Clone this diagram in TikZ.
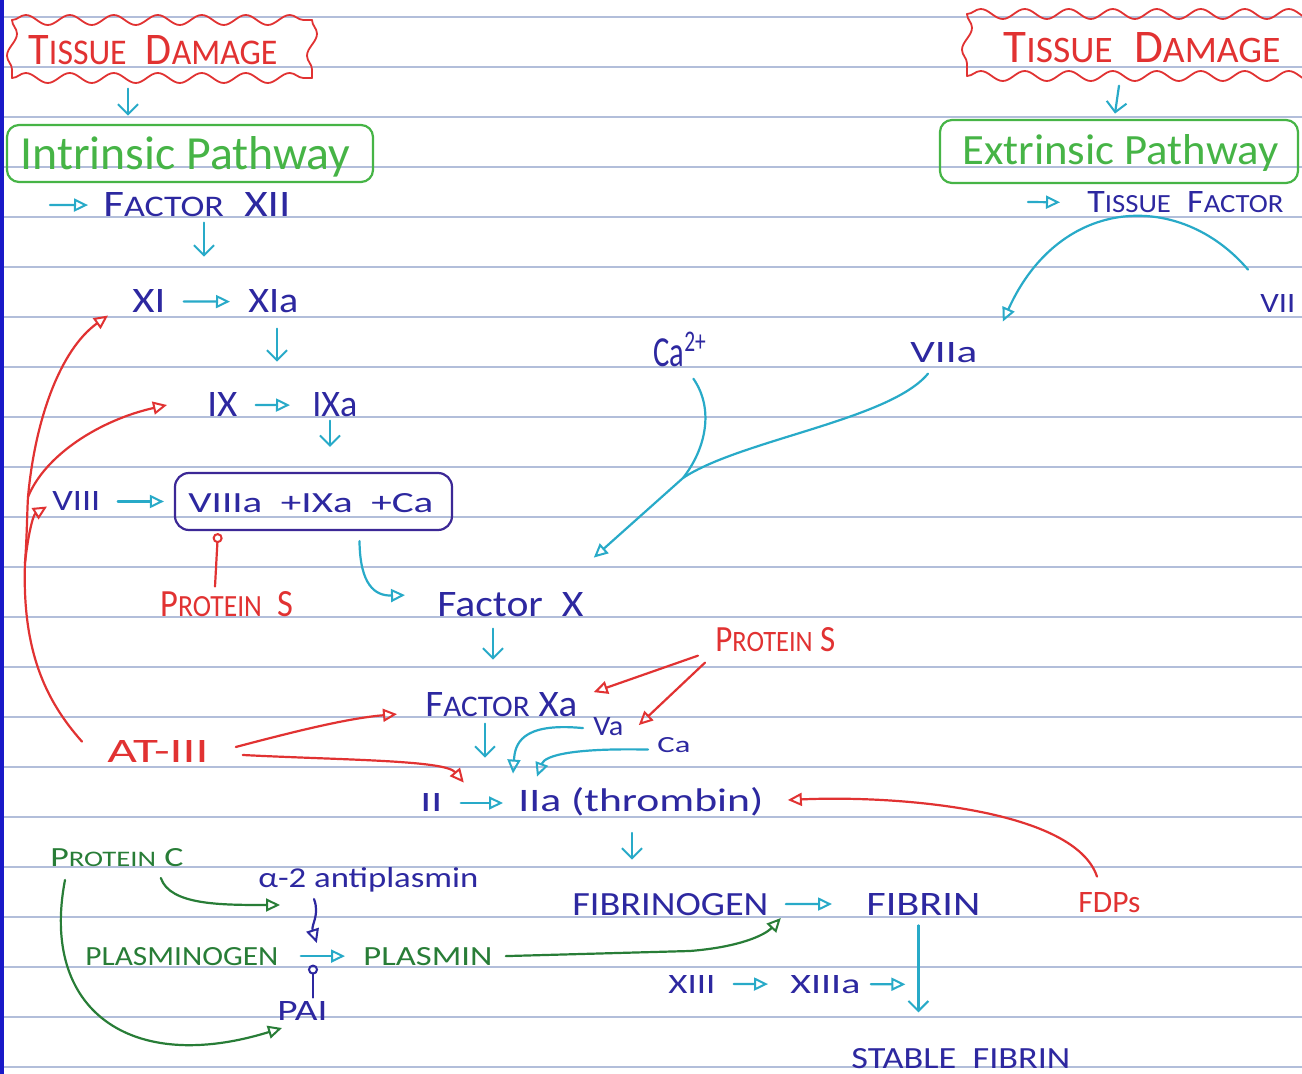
\documentclass[tikz,border=0pt]{standalone}
\usepackage{fontspec}
\setmainfont{Carlito}
\usepackage{graphicx}
\usetikzlibrary{arrows.meta,decorations.pathmorphing,calc}
\newdimen\pxd \pxd=0.5pt
\newcommand\hw[3]{\resizebox{#1\pxd}{#2\pxd}{#3}}
\newcommand\capsm[2]{#1\scalebox{0.8}{#2}}
\definecolor{ink}{RGB}{45,40,160}
\definecolor{cy}{RGB}{40,170,200}
\definecolor{rd}{RGB}{225,50,50}
\definecolor{gr}{RGB}{70,180,70}
\definecolor{dg}{RGB}{40,125,55}
\definecolor{boxc}{RGB}{60,40,150}
\definecolor{pl}{RGB}{178,190,218}
\definecolor{strip}{RGB}{25,25,200}
\begin{document}
\begin{tikzpicture}[x=0.5pt,y=-0.5pt,line cap=round,line join=round,
  txt/.style={inner sep=0pt,anchor=base west,text=#1},
  tri/.style={-{Triangle[open,length=7pt,width=6.5pt,line width=1pt]}},
  barb/.style={-{Straight Barb[length=5pt,width=10pt,line width=1pt]}},
  inhib/.style={-{Circle[open,length=5pt,width=5pt,line width=1pt]}},
  cyl/.style={cy,line width=1.1pt},
  rdl/.style={rd,line width=1.1pt},
  dgl/.style={dg,line width=1.1pt},
  wavy/.style={rd,line width=0.9pt,decorate,decoration={snake,segment length=22pt,amplitude=2.5pt}}]
\clip (0,0) rectangle (1302,1074);
\fill[white] (0,0) rectangle (1302,1074);
\foreach \yy in {17,67,...,1067} \draw[pl,line width=1pt] (0,\yy) -- (1302,\yy);
\fill[strip] (0,0) rectangle (4,1074);

% ---------- text nodes ----------
\node[txt=rd] (tdL) at (28,65) {\hw{249}{29}{\capsm{T}{ISSUE}\ \ \capsm{D}{AMAGE}}};
\node[txt=gr] (intr) at (20,170) {\hw{330}{33}{Intrinsic Pathway}};
\node[txt=ink] (fxii) at (103,217) {\hw{187}{24}{\capsm{F}{ACTOR}\ \ XII}};
\node[txt=ink] (xi) at (132,313) {\hw{33}{23}{XI}};
\node[txt=ink] (xia) at (248,313) {\hw{50}{23}{XIa}};
\node[txt=ink] (ix) at (207,417) {\hw{30}{24}{IX}};
\node[txt=ink] (ixa) at (312,417) {\hw{45}{24}{IXa}};
\node[txt=ink] (viii) at (52,511) {\hw{48}{19}{VIII}};
\node[draw=boxc,line width=1.1pt,rounded corners=7pt,minimum width=277\pxd,minimum height=57\pxd,inner sep=0pt] (box) at (313.5,501.5) {};
\node[txt=ink] (cplx) at (188,513) {\hw{245}{19}{VIIIa\ \ +IXa\ \ +Ca}};
\node[txt=rd] (ps1) at (160,617) {\hw{133}{25}{\capsm{P}{ROTEIN}\ \ S}};
\node[txt=ink] (fx) at (437,617) {\hw{146}{24}{Factor\ \ X}};
\node[txt=ink] (fxa) at (425,717) {\hw{152}{24}{\capsm{F}{ACTOR} Xa}};
\node[txt=rd] (ps2) at (715,652) {\hw{120}{24}{\capsm{P}{ROTEIN} S}};
\node[txt=ink] (va) at (593,735) {\hw{30}{18}{Va}};
\node[txt=ink] (ca) at (657,753) {\hw{33}{15}{Ca}};
\node[txt=rd] (at) at (107,763) {\hw{101}{22}{AT-III}};
\node[txt=ink] (ii) at (420,812) {\hw{22}{18}{II}};
\node[txt=ink] (iia) at (518,812) {\hw{245}{24}{IIa (thrombin)}};
\node[txt=dg] (pc) at (50,866) {\hw{133}{18}{\capsm{P}{ROTEIN} C}};
\node[txt=ink] (a2) at (258,887) {\hw{220}{20}{α-2 antiplasmin}};
\node[txt=dg] (plg) at (85,965) {\hw{193}{18}{PLASMINOGEN}};
\node[txt=dg] (pla) at (363,965) {\hw{129}{18}{PLASMIN}};
\node[txt=ink] (pai) at (277,1020) {\hw{50}{19}{PAI}};
\node[txt=ink] (fbg) at (572,915) {\hw{196}{22}{FIBRINOGEN}};
\node[txt=ink] (fbn) at (866,915) {\hw{114}{22}{FIBRIN}};
\node[txt=rd] (fdp) at (1078,913) {\hw{62}{20}{FDPs}};
\node[txt=ink] (xiii) at (668,993) {\hw{47}{18}{XIII}};
\node[txt=ink] (xiiia) at (790,993) {\hw{70}{18}{XIIIa}};
\node[txt=ink] (sf) at (851,1068) {\hw{219}{20}{STABLE\ \ FIBRIN}};
\node[txt=rd] (tdR) at (1003,63) {\hw{277}{30}{\capsm{T}{ISSUE}\ \ \capsm{D}{AMAGE}}};
\node[txt=gr] (extr) at (962,165) {\hw{316}{30}{Extrinsic Pathway}};
\node[txt=ink] (tf) at (1087,213) {\hw{196}{21}{\capsm{T}{ISSUE}\ \ \capsm{F}{ACTOR}}};
\node[txt=ink] (vii) at (1260,313) {\hw{35}{18}{VII}};
\node[txt=ink] (viia) at (910,363) {\hw{67}{20}{VIIa}};
\node[txt=ink] (ca2) at (653,367) {\hw{54}{35}{Ca\textsuperscript{2+}}};

% ---------- frames ----------
\draw[wavy] (12,20) -- (312,20);
\draw[wavy] (12,78) -- (312,78);
\draw[wavy] (12,20) -- (12,78);
\draw[wavy] (312,20) -- (312,78);
\draw[wavy] (967,14) -- (1330,14);
\draw[wavy] (967,76) -- (1330,76);
\draw[wavy] (967,14) -- (967,76);
\draw[gr,line width=1.1pt,rounded corners=6pt] (7,125) rectangle (373,182);
\draw[gr,line width=1.1pt,rounded corners=6pt] (940,120) rectangle (1298,183);

% ---------- free ends ----------
\coordinate (fxiiin) at (50,205);
\coordinate (tfin) at (1028,202);
\coordinate (mg) at (683,478);
\coordinate (br1) at (25,563);
\coordinate (br2) at (28,497);

% ---------- cyan connectors ----------
\draw[cyl,barb] ($(tdL.south west)+(100,23)$) -- ($(intr.north west)+(108,-21)$);
\draw[cyl,barb] ($(tdR.south west)+(116,22)$) -- ($(extr.north west)+(153,-21)$);
\draw[cyl,tri,shorten >=15\pxd] (fxiiin) -- (fxii.west);
\draw[cyl,tri,shorten >=27\pxd] (tfin) -- (tf.west);
\draw[cyl,barb] ($(fxii.south west)+(101,5)$) -- ($(xi.north west)+(72,-33)$);
\draw[cyl,tri,shorten <=18\pxd,shorten >=18\pxd] (xi.east) -- (xia.west);
\draw[cyl,barb] ($(xia.south west)+(29,15)$) -- ($(ix.north west)+(70,-31)$);
\draw[cyl,tri,shorten <=18\pxd,shorten >=22\pxd] (ix.east) -- (ixa.west);
\draw[cyl,barb] ($(ixa.south west)+(18,3)$) -- ($(box.north)+(16.5,-25)$);
\draw[cyl,tri,shorten <=17\pxd,shorten >=10\pxd] (viii.east) -- (box.west);
\draw[cyl,tri] ($(box.south)+(46,10)$) .. controls (360,585) and (375,596) .. ($(fx.west)+(-32,-10)$);
\draw[cyl,barb] ($(fx.south west)+(56,11)$) -- ($(fxa.north west)+(68,-33)$);
\draw[cyl,barb] ($(fxa.south west)+(60,6)$) -- ($(fxa.south west)+(60,40)$);
\draw[cyl,tri,shorten <=18\pxd,shorten >=15\pxd] (ii.east) -- (ii.east -| iia.west);
\draw[cyl,tri] ($(va.west)+(-10,2)$) .. controls (520,722) and (515,745) .. ($(iia.north west)+(-5,-14)$);
\draw[cyl,tri] ($(ca.west)+(-9,4)$) .. controls (575,748) and (545,755) .. ($(iia.north west)+(19,-11)$);
\draw[cyl,barb] ($(iia.base west)+(114,21)$) -- ($(fbg.north west)+(60,-33)$);
\draw[cyl,tri,shorten <=17\pxd,shorten >=34\pxd] (fbg.east) -- (fbn.west);
\draw[cyl,barb] ($(fbn.south)+(-5,10)$) -- ($(fbn.south)+(-5,97)$);
\draw[cyl,tri,shorten <=18\pxd,shorten >=22\pxd] (xiii.east) -- (xiiia.west);
\draw[cyl,tri,shorten <=10\pxd,shorten >=13\pxd] (xiiia.east) -- ($(fbn.south)+(-5,69)$);
\draw[cyl,tri,shorten <=22\pxd,shorten >=18\pxd] (plg.east) -- (plg.east -| pla.west);
\draw[cyl,tri] ($(vii.north west)+(-12,-25)$) .. controls (1180,190) and (1060,195) .. ($(viia.north east)+(25,-21)$);
\draw[cyl] ($(ca2.south)+(13,11)$) .. controls (715,410) and (705,450) .. (mg);
\draw[cyl] ($(viia.south west)+(18,10)$) .. controls (890,420) and (740,440) .. (mg);
\draw[cyl,tri] (mg) -- ($(fx.north east)+(10,-35)$);

% ---------- red connectors ----------
\draw[rdl,inhib] ($(ps1.north west)+(55,-5)$) -- ($(box.south west)+(44,2)$);
\draw[rdl,tri] ($(ps2.south west)+(-17,3)$) -- ($(fxa.east)+(16,-13)$);
\draw[rdl,tri] ($(ps2.south west)+(-10,10)$) -- ($(va.east)+(15,-1)$);
\draw[rdl,tri] ($(at.east)+(27,-5)$) .. controls (300,730) and (350,718) .. ($(fxa.west)+(-28,9)$);
\draw[rdl,tri] ($(at.east)+(34,3)$) .. controls (340,760) and (445,760) .. ($(ii.north east)+(21,-11)$);
\draw[rdl,tri] ($(at.north west)+(-25,1)$) .. controls (45,700) and (22,650) .. (br1)
   .. controls (27,535) and (27,515) .. (br2) .. controls (35,420) and (60,350) .. ($(xi.west)+(-24,14)$);
\draw[rdl,tri] (br1) .. controls (28,535) and (33,515) .. ($(viii.west)+(-5,5)$);
\draw[rdl,tri] (br2) .. controls (45,455) and (100,420) .. ($(ix.west)+(-40,0)$);
\draw[rdl,tri] ($(fdp.north west)+(19,-16)$) .. controls (1075,810) and (900,795) .. ($(iia.base east)+(24,-12)$);

% ---------- green / fibrinolysis ----------
\draw[dgl,tri] ($(pc.base east)+(-23,12)$) .. controls (170,905) and (220,905) .. ($(a2.base west)+(22,18)$);
\draw[dgl,tri] ($(pc.base west)+(15,14)$) .. controls (40,1010) and (130,1075) .. ($(pai.base west)+(5,8)$);
\draw[dgl,tri] ($(pla.east)+(13,0)$) -- (690,951) .. controls (740,947) and (765,935) .. ($(fbg.base east)+(12,3)$);
\draw[ink,line width=1.1pt,tri] ($(a2.base west)+(56,12)$) .. controls (320,915) and (311,925) .. ($(plg.base east)+(38,-22)$);
\draw[ink,line width=1.1pt,inhib] ($(pai.north west)+(36,-3)$) -- ($(pai.north west)+(36,-36)$);
\end{tikzpicture}
\end{document}
